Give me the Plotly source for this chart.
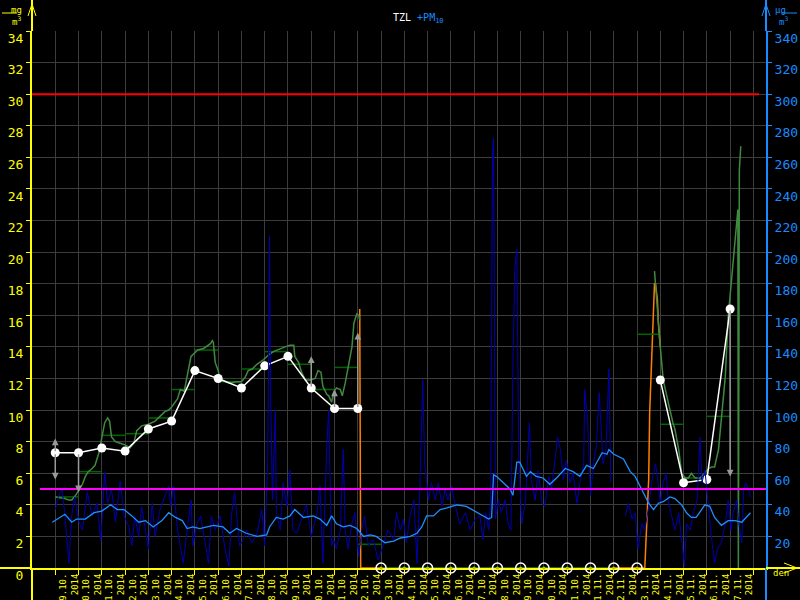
import plotly.graph_objects as go

# ---------------- data (time in hours since 9.10.2014 00:00) ----------------
day_labels = ["9.10.", "10.10.", "11.10.", "12.10.", "13.10.", "14.10.", "15.10.", "16.10.",
              "17.10.", "18.10.", "19.10.", "20.10.", "21.10.", "22.10.", "23.10.", "24.10.",
              "25.10.", "26.10.", "27.10.", "28.10.", "29.10.", "30.10.", "31.10.", "1.11.",
              "2.11.", "3.11.", "4.11.", "5.11.", "6.11.", "7.11."]
year_label = "2014"

# PM10 hourly [ug/m3]
pm_hours = [0, 3, 7, 10, 14, 17, 20, 24, 28, 33,
            38, 43, 47, 51, 54, 58, 62, 67, 71, 76,
            79, 82, 86, 89, 93, 96, 100, 103, 108, 113,
            117, 119, 122, 126, 129, 132, 136, 140, 142, 146,
            150, 154, 158, 161, 165, 170, 175, 179, 182, 185,
            187, 190, 194, 197, 203, 208, 213, 216, 219, 221,
            222, 224, 227, 228, 232, 235, 239, 242, 245, 249,
            254, 259, 264, 270, 273, 276, 280, 282, 284, 285,
            287, 290, 294, 297, 299, 302, 306, 309, 313, 316,
            319, 323, 328, 333, 338, 343, 349, 352, 356, 359,
            362, 366, 370, 373, 376, 379, 381, 385, 388, 392,
            395, 399, 402, 405, 409, 412, 417, 423, 428, 433,
            438, 441, 444, 447, 449, 451, 452, 454, 457, 460,
            464, 467, 470, 472, 474, 476, 478, 481, 485, 489,
            491, 495, 498, 502, 505, 509, 512, 515, 518, 521,
            524, 527, 531, 534, 538, 541, 545, 546, 549, 552,
            555, 558, 561, 565, 568, 571, 573, 580, 588, 591,
            595, 598, 601, 605, 608, 612, 615, 619, 621, 624,
            627, 630, 632, 636, 639, 643, 646, 649, 651, 655,
            658, 662, 665, 667, 670, 674, 677, 680, 683, 687,
            691, 694, 697, 699, 703, 705, 708, 710, 712, 715,
            717]
pm_values = [37, 45, 50, 33, 3, 33, 45, 30, 24, 48,
             33, 41, 17, 61, 41, 50, 29, 55, 33, 26,
             14, 33, 20, 39, 24, 12, 41, 20, 37, 45,
             52, 39, 52, 24, 12, 3, 24, 43, 14, 28,
             33, 18, 3, 33, 24, 33, 12, 1, 35, 48,
             33, 14, 18, 24, 16, 22, 37, 14, 66, 210,
             113, 43, 100, 35, 24, 54, 39, 62, 24, 22,
             31, 40, 20, 35, 52, 3, 77, 100, 40, 14,
             18, 12, 24, 75, 24, 12, 28, 35, 7, 24,
             33, 14, 18, 5, 14, 24, 18, 35, 24, 31,
             16, 33, 43, 3, 50, 119, 66, 43, 54, 43,
             54, 39, 50, 43, 52, 41, 28, 35, 24, 31,
             33, 18, 35, 24, 43, 265, 272, 31, 43, 35,
             43, 28, 24, 130, 189, 202, 71, 28, 43, 92,
             56, 43, 62, 41, 39, 58, 50, 66, 83, 75,
             56, 68, 54, 60, 41, 54, 66, 113, 94, 46,
             66, 77, 111, 66, 75, 126, 54, None, 33, 41,
             31, 35, 12, 28, 24, 39, 54, 66, 58, 41,
             54, 60, 43, 33, 24, 35, 18, 1, 28, 24,
             35, 43, 83, 54, 62, 35, 18, 3, 12, 16,
             28, 43, 24, 35, 43, 28, 16, 50, 54, 50,
             45]

# PM10 running average [ug/m3]
pm_avg_hours = [-3, 2, 10, 17, 22, 31, 40, 48, 57, 64,
                71, 79, 86, 93, 101, 110, 117, 124, 131, 136,
                142, 149, 163, 173, 180, 187, 197, 208, 218, 221,
                228, 235, 242, 247, 256, 266, 273, 280, 285, 290,
                297, 304, 311, 318, 325, 331, 340, 349, 356, 366,
                373, 378, 383, 390, 397, 404, 414, 424, 435, 443,
                447, 450, 452, 455, 462, 469, 472, 476, 479, 486,
                490, 496, 503, 510, 517, 526, 534, 541, 548, 555,
                564, 569, 571, 576, 586, 593, 598, 605, 612, 617,
                622, 627, 634, 639, 646, 651, 656, 661, 670, 675,
                680, 687, 694, 701, 708, 717]
pm_avg_values = [29, 31, 34, 29, 31, 31, 35, 36, 40, 37,
                 37, 33, 29, 30, 26, 30, 35, 32, 30, 25,
                 26, 25, 27, 26, 22, 25, 22, 20, 21, 26,
                 32, 31, 33, 37, 32, 33, 31, 27, 33, 28,
                 26, 27, 25, 20, 21, 20, 16, 17, 19, 20,
                 22, 26, 33, 33, 37, 38, 40, 39, 35, 32,
                 31, 32, 59, 58, 54, 50, 46, 67, 67, 58,
                 61, 58, 57, 53, 57, 63, 61, 58, 65, 63,
                 73, 72, 75, 72, 69, 61, 58, 50, 41, 37,
                 41, 42, 45, 44, 40, 35, 32, 32, 40, 39,
                 32, 27, 30, 30, 29, 35]

# TZL running value [mg/m3]
tzl_hours = [0, 10, 14, 17, 21, 24, 28, 31, 34, 38,
             41, 45, 48, 51, 54, 56, 58, 62, 67, 72,
             77, 81, 84, 89, 96, 103, 108, 113, 117, 120,
             126, 129, 133, 136, 140, 147, 153, 160, 162, 163,
             165, 168, 170, 175, 180, 187, 192, 196, 199, 203,
             208, 215, 220, 225, 232, 237, 242, 246, 247, 251,
             254, 258, 263, 268, 271, 274, 276, 280, 282, 285,
             287, 290, 294, 296, 299, 302, 306, 308, 311, 313,
             314, 316, 618, 620, 622, 624, 627, 631, 634, 637,
             639, 643, 646, 650, 653, 656, 660, 665, 670, 674,
             677, 680, 684, 687, 691, 694, 698, 701, 703, 704,
             704.5, 705, 705.5, 707]
tzl_values = [4.5, 4.4, 4.3, 4.3, 4.6, 4.9, 5.3, 5.8, 6.1, 6.3,
              6.5, 7.3, 8.3, 9.2, 9.5, 9.3, 8.3, 8.0, 7.9, 7.8,
              7.6, 7.9, 8.7, 9.0, 9.1, 9.3, 9.6, 9.9, 10.0, 10.2,
              10.7, 11.3, 11.2, 12.2, 13.4, 13.8, 13.9, 14.2, 14.4, 14.3,
              13.0, 12.5, 11.9, 11.8, 11.7, 11.8, 11.8, 12.1, 12.5, 12.6,
              12.9, 13.2, 13.5, 13.7, 13.9, 14.0, 14.1, 14.1, 13.4, 13.0,
              12.4, 11.9, 11.9, 12.0, 12.5, 12.4, 11.5, 11.0, 10.9, 10.5,
              11.1, 11.4, 11.3, 10.9, 11.7, 12.8, 14.0, 15.5, 16.1, 16.0,
              15.7, None, 18.8, 17.0, 15.5, 14.0, 11.9, 10.9, 10.0, 9.2,
              8.8, 7.5, 6.0, 5.7, 5.7, 6.0, 5.7, 5.7, 6.0, 6.3,
              6.4, 6.4, 7.5, 9.6, 12.1, 15.9, 18.7, 21.0, 22.3, 22.7,
              0, 11.5, 25.2, 26.7]

# TZL raw hourly (visible parts) [mg/m3]
tzl_raw_hours = [314, 315, 608, 610, 612, 613, 615, 617, 618, 619, 621, 622, 624]
tzl_raw_values = [16.4, 0, 0, 2.4, 5.6, 9.8, 13.0, 16.8, 18.0, 18.0, 17.0, 15.5, 14.0]

# daily averages (one per day, 9.10. .. 7.11.)
daily_avg = [4.5, 6.1, 8.4, 8.5, 9.5, 11.3, 13.8, 11.8, 12.6, 13.7,
             12.9, 11.3, 12.7, 1.5, 0, 0, 0, 0, 0, 0,
             0, 0, 0, 0, None, 14.8, 9.1, 5.7, 9.6, None]
# daily TZL value at midnight (None = missing)
daily_tzl = [7.3, 7.3, 7.6, 7.4, 8.8, 9.3, 12.5, 12.0, 11.4, 12.8,
             13.4, 11.4, 10.1, 10.1, None, None, None, None, None, None,
             None, None, None, None, None, None, 11.9, 5.4, 5.6, 16.4]
# gray change arrows: day index, start value, end value
arrow_day = [0, 0, 1, 11, 12, 13, 28, 29]
arrow_from = [7.3, 7.3, 7.3, 11.4, 10.1, 10.1, 5.6, 16.4]
arrow_to = [8.2, 5.6, 4.8, 13.4, 11.3, 14.9, 5.4, 5.8]

limit_tzl = 30     # mg/m3
limit_pm10 = 50    # ug/m3

# ---------------- style ----------------
FONT = "DejaVu Sans Mono"
YEL = "#ffff00"
BLUE = "#1a8cff"
GRID = "#3c3c3c"


def PX(x):
    return (x - 32) / 734.0


def PY(y):
    return (568 - y) / 537.0


fig = go.Figure()

fig.add_trace(go.Scatter(x=pm_hours, y=pm_values, yaxis="y2", mode="lines",
                         line=dict(color="#0000b0", width=1), connectgaps=False))
fig.add_trace(go.Scatter(x=pm_avg_hours, y=pm_avg_values, yaxis="y2", mode="lines",
                         line=dict(color="#1e90ff", width=1.3)))
fig.add_trace(go.Scatter(x=tzl_raw_hours, y=tzl_raw_values, mode="lines",
                         line=dict(color="#ff8000", width=1.5)))

seg_x, seg_y = [], []
for d, v in enumerate(daily_avg):
    if v is None:
        continue
    seg_x += [d * 24, d * 24 + 24, None]
    seg_y += [v, v, None]
fig.add_trace(go.Scatter(x=seg_x, y=seg_y, mode="lines",
                         line=dict(color="#006400", width=1.5)))

fig.add_trace(go.Scatter(x=tzl_hours, y=tzl_values, mode="lines",
                         line=dict(color="#3f8a3f", width=1.5), connectgaps=False))

day_hours = [d * 24 for d in range(len(daily_tzl))]
fig.add_trace(go.Scatter(x=day_hours, y=daily_tzl, mode="lines+markers",
                         line=dict(color="white", width=1.5),
                         marker=dict(color="white", size=9), connectgaps=False,
                         cliponaxis=False))

miss_x = [d * 24 for d, v in enumerate(daily_tzl) if v is None]
fig.add_trace(go.Scatter(x=miss_x, y=[0] * len(miss_x), mode="markers",
                         marker=dict(symbol="circle-open", color="white", size=10,
                                     line=dict(width=1.5, color="white")),
                         cliponaxis=False))
fig.add_trace(go.Scatter(x=miss_x, y=[0] * len(miss_x), mode="markers",
                         marker=dict(color="#b8c800", size=3), cliponaxis=False))

annotations = []
for d, a, b in zip(arrow_day, arrow_from, arrow_to):
    annotations.append(dict(x=d * 24, y=b, ax=d * 24, ay=a, xref="x", yref="y",
                            axref="x", ayref="y", text="", showarrow=True,
                            arrowhead=2, arrowsize=0.9, arrowwidth=1.5,
                            arrowcolor="#9a9a9a", standoff=0, startstandoff=0))

# title & units
annotations += [
    dict(x=PX(418), y=PY(10), xref="paper", yref="paper", showarrow=False,
         text="TZL <span style='color:#1a8cff'>+PM<sub>10</sub></span>",
         font=dict(family=FONT, size=10, color="white")),
    dict(x=PX(9), y=PY(3), xref="paper", yref="paper", showarrow=False, text="mg",
         font=dict(family=FONT, size=9, color=YEL)),
    dict(x=PX(10), y=PY(13), xref="paper", yref="paper", showarrow=False,
         text="m<sup>3</sup>", font=dict(family=FONT, size=9, color=YEL)),
    dict(x=PX(788), y=PY(3), xref="paper", yref="paper", showarrow=False, text="µg",
         font=dict(family=FONT, size=9, color=BLUE)),
    dict(x=PX(790), y=PY(13), xref="paper", yref="paper", showarrow=False,
         text="m<sup>3</sup>", font=dict(family=FONT, size=9, color=BLUE)),
    dict(x=PX(791), y=PY(580), xref="paper", yref="paper", showarrow=False, text="den",
         font=dict(family=FONT, size=9, color=YEL)),
]


def pline(x0, y0, x1, y1, color, width=2):
    return dict(type="line", xref="paper", yref="paper", x0=PX(x0), y0=PY(y0),
                x1=PX(x1), y1=PY(y1), line=dict(color=color, width=width))


shapes = [
    # limit lines
    dict(type="line", xref="paper", yref="y", x0=0, x1=PX(759), y0=limit_tzl,
         y1=limit_tzl, line=dict(color="#ff0000", width=2), layer="above"),
    dict(type="line", xref="paper", yref="y2", x0=PX(40), x1=1, y0=limit_pm10,
         y1=limit_pm10, line=dict(color="#ff00ff", width=2), layer="above"),
    # axis extensions & arrows
    pline(32, 31, 32, 0, YEL), pline(32, 600, 32, 568, YEL),
    pline(28, 16, 32, 4, YEL, 1), pline(36, 16, 32, 4, YEL, 1),
    pline(766, 31, 766, 0, BLUE), pline(766, 600, 766, 568, BLUE),
    pline(762, 16, 766, 4, BLUE, 1), pline(770, 16, 766, 4, BLUE, 1),
    pline(0, 568, 32, 568, YEL), pline(766, 568, 800, 568, YEL),
    pline(784, 563, 797, 568, YEL, 1), pline(784, 573, 797, 568, YEL, 1),
    # unit fraction bars
    pline(2, 13, 17, 13, YEL, 1), pline(781, 13, 797, 13, BLUE, 1),
]

label_hours = [d * 24 + 14 for d in range(len(day_labels))]
label_text = [f"{lab}<br>{year_label}" for lab in day_labels]
grid_hours = [d * 24 for d in range(len(day_labels) + 1)]

fig.update_layout(
    template="none",
    width=800, height=600,
    margin=dict(l=32, r=34, t=31, b=32),
    paper_bgcolor="black", plot_bgcolor="rgba(0,0,0,0)",
    showlegend=False, hovermode=False,
    font=dict(family=FONT, color=YEL),
    xaxis=dict(range=[-24, 733], tickmode="array", tickvals=label_hours,
               ticktext=label_text, tickangle=-90, ticks="",
               tickfont=dict(family=FONT, size=9, color=YEL),
               showgrid=False, zeroline=False, showline=True, linecolor=YEL,
               linewidth=2, layer="below traces", automargin=False,
               minor=dict(tickmode="array", tickvals=grid_hours, ticks="outside",
                          ticklen=5, tickcolor=YEL, tickwidth=1, showgrid=True,
                          gridcolor=GRID, gridwidth=1)),
    yaxis=dict(range=[0, 34], tickmode="array", tickvals=list(range(0, 35, 2)),
               ticks="outside", ticklen=4, tickcolor=YEL, tickwidth=1,
               tickfont=dict(family=FONT, size=13, color=YEL),
               showgrid=True, gridcolor=GRID, gridwidth=1, zeroline=False,
               showline=True, linecolor=YEL, linewidth=2, layer="below traces",
               ticklabelshift=7, automargin=False),
    yaxis2=dict(range=[0, 340], overlaying="y", side="right", tickmode="array",
                tickvals=list(range(20, 341, 20)), ticks="outside", ticklen=4,
                tickcolor=BLUE, tickwidth=1,
                tickfont=dict(family=FONT, size=13, color=BLUE),
                showgrid=False, zeroline=False, showline=True, linecolor=BLUE,
                linewidth=2, ticklabelshift=7, automargin=False),
    annotations=annotations,
    shapes=shapes,
)

fig.write_html("out.html", config={"displayModeBar": False},
               post_script="document.body.style.margin='0';document.body.style.overflow='hidden';")
